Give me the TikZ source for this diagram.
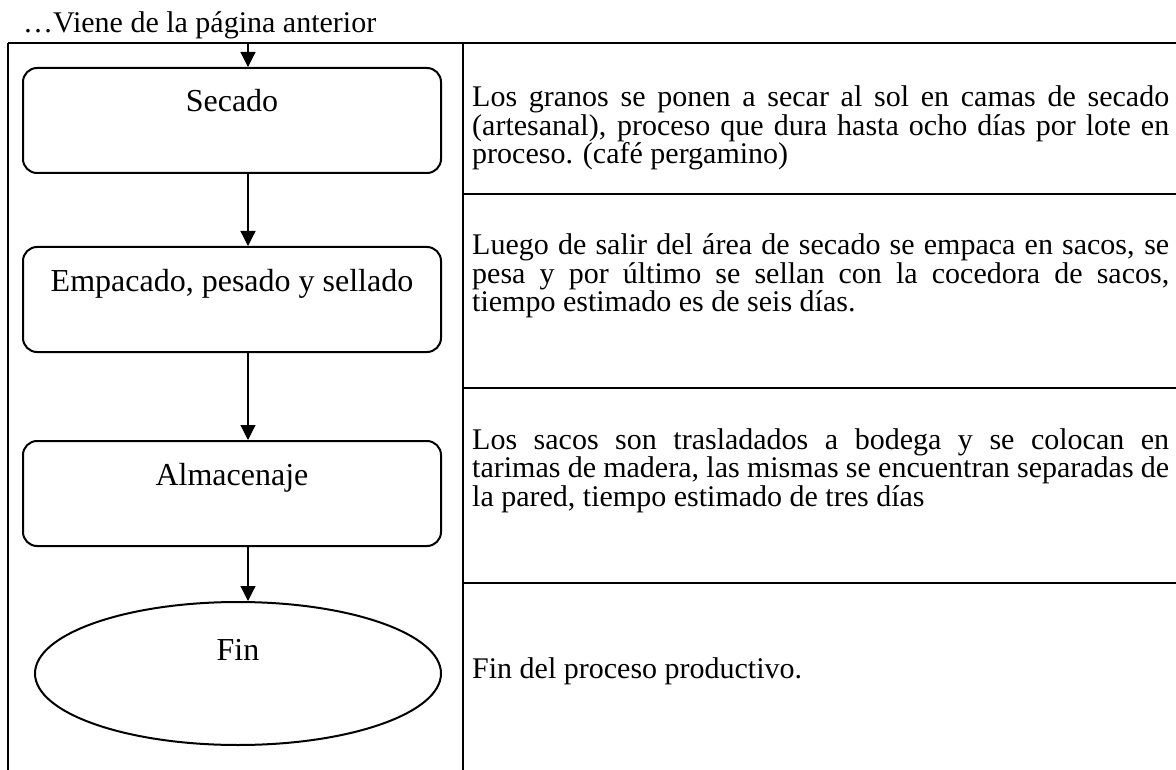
\documentclass[tikz,border=0pt]{standalone}
\usepackage{fontspec}
\setmainfont{Liberation Serif}
\usetikzlibrary{arrows.meta,shapes.geometric}
\begin{document}
\begin{tikzpicture}[x=1pt,y=-1pt,
  procbox/.style={draw,line width=2pt,rounded corners=14pt,minimum width=418pt,
    inner sep=0pt,text height=44pt,text depth=61pt,anchor=north,
    font=\fontsize{32}{36}\selectfont},
  endell/.style={draw,ellipse,line width=2pt,minimum width=406pt,minimum height=143pt,
    inner sep=0pt,text height=20pt,text depth=47pt,font=\fontsize{32}{36}\selectfont},
  flowarrow/.style={line width=1.2pt,-{Triangle[width=15pt,length=15pt]}},
  tableline/.style={line width=1.2pt},
  desc/.style={anchor=base west,text width=697pt,align=justify,inner sep=0pt,
    font=\fontsize{30}{28.5}\selectfont},
  caption/.style={anchor=base west,inner sep=0pt,font=\fontsize{30}{34}\selectfont}]
\useasboundingbox (0,0) rectangle (1176,770);

% caption
\node[caption] (cap) at (23,33) {…Viene de la página anterior};

% table
\draw[tableline] (8,43) -- (1176,43);
\draw[tableline] (8,43) -- (8,770);
\draw[tableline] (463,43) -- (463,770);
\draw[tableline] (463,194) -- (1176,194);
\draw[tableline] (463,388) -- (1176,388);
\draw[tableline] (463,583) -- (1176,583);

% flow nodes
\node[procbox] (s1) at (232,67) {Secado};
\node[procbox] (s2) at (232,246) {Empacado, pesado y sellado};
\node[procbox] (s3) at (232,440) {Almacenaje};
\node[endell] (fin) at (238,673.5) {Fin};

% connectors
\coordinate (axis) at (248,43);
\draw[flowarrow] (axis) -- (s1.north -| axis);
\draw[flowarrow] (s1.south -| axis) -- (s2.north -| axis);
\draw[flowarrow] (s2.south -| axis) -- (s3.north -| axis);
\draw[flowarrow] (s3.south -| axis) -- (fin.north -| axis);

% descriptions
\node[desc] (d1) at (472,107) {Los granos se ponen a secar al sol en camas de secado\linebreak (artesanal), proceso que dura hasta ocho días por lote en\linebreak proceso. (café pergamino)};
\node[desc] (d2) at (472,255) {Luego de salir del área de secado se empaca en sacos, se\linebreak pesa y por último se sellan con la cocedora de sacos,\linebreak tiempo estimado es de seis días.};
\node[desc] (d3) at (472,449) {Los sacos son trasladados a bodega y se colocan en\linebreak tarimas de madera, las mismas se encuentran separadas de\linebreak la pared, tiempo estimado de tres días};
\node[desc] (d4) at (472,678) {Fin del proceso productivo.};
\end{tikzpicture}
\end{document}
